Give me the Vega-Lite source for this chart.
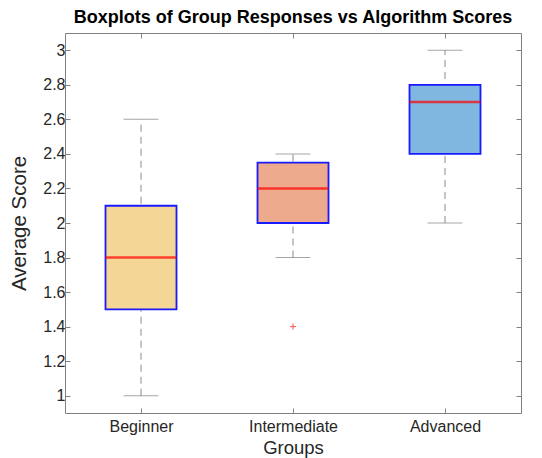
{
  "$schema": "https://vega.github.io/schema/vega-lite/v6.json",
  "width": 456,
  "height": 380,
  "autosize": "none",
  "padding": {"left": 65, "top": 33, "right": 21, "bottom": 45},
  "title": {"text": "Boxplots of Group Responses vs Algorithm Scores", "font": "Liberation Sans", "fontSize": 18, "fontWeight": "bold", "color": "#000000", "anchor": "middle", "offset": 6},
  "config": {
    "view": {"stroke": null},
    "axis": {"labelFont": "Liberation Sans", "titleFont": "Liberation Sans", "labelColor": "#262626", "titleColor": "#262626", "domainColor": "#808080", "tickColor": "#808080", "grid": false, "titleFontWeight": "normal"}
  },
  "datasets": {
    "boxes": [
      {"group": "Beginner", "low": 1.0, "q1": 1.5, "median": 1.8, "q3": 2.1, "high": 2.6, "fill": "Beginner"},
      {"group": "Intermediate", "low": 1.8, "q1": 2.0, "median": 2.2, "q3": 2.35, "high": 2.4, "fill": "Intermediate"},
      {"group": "Advanced", "low": 2.0, "q1": 2.4, "median": 2.7, "q3": 2.8, "high": 3.0, "fill": "Advanced"}
    ],
    "outliers": [
      {"group": "Intermediate", "value": 1.4}
    ]
  },
  "resolve": {"axis": {"x": "independent", "y": "independent"}},
  "layer": [
    {
      "data": {"name": "boxes"},
      "mark": {"type": "rule", "color": "#8a8a8a", "strokeWidth": 1, "strokeDash": [7, 5]},
      "encoding": {
        "x": {"field": "group", "type": "nominal", "sort": ["Beginner", "Intermediate", "Advanced"], "scale": {"type": "point", "padding": 0.5, "domain": ["Beginner", "Intermediate", "Advanced"]}, "axis": {"orient": "bottom", "title": "Groups", "labelAngle": 0, "labelFontSize": 16, "titleFontSize": 18.5, "tickSize": -5, "labelPadding": 10, "titlePadding": 4, "domainWidth": 1}},
        "y": {"field": "low", "type": "quantitative", "scale": {"domain": [0.9, 3.1], "nice": false, "zero": false}, "axis": {"orient": "left", "title": "Average Score", "values": [1, 1.2, 1.4, 1.6, 1.8, 2, 2.2, 2.4, 2.6, 2.8, 3], "format": "~g", "labelFontSize": 16, "titleFontSize": 20.5, "tickSize": -5, "labelPadding": 5, "titlePadding": 13}},
        "y2": {"field": "high"}
      }
    },
    {
      "data": {"name": "boxes"},
      "mark": {"type": "tick", "color": "#808080", "size": 35, "thickness": 1, "orient": "horizontal"},
      "encoding": {
        "x": {"field": "group", "type": "nominal", "axis": {"orient": "top", "labels": false, "title": null, "tickSize": -5, "domainWidth": 1}},
        "y": {"field": "low", "type": "quantitative", "axis": {"orient": "right", "labels": false, "title": null, "values": [1, 1.2, 1.4, 1.6, 1.8, 2, 2.2, 2.4, 2.6, 2.8, 3], "tickSize": -5}}
      }
    },
    {
      "data": {"name": "boxes"},
      "mark": {"type": "tick", "color": "#808080", "size": 35, "thickness": 1, "orient": "horizontal"},
      "encoding": {
        "x": {"field": "group", "type": "nominal", "axis": null},
        "y": {"field": "high", "type": "quantitative", "axis": null}
      }
    },
    {
      "data": {"name": "boxes"},
      "mark": {"type": "bar", "size": 71, "stroke": "#1a1aff", "strokeWidth": 1.8},
      "encoding": {
        "x": {"field": "group", "type": "nominal", "axis": null},
        "y": {"field": "q1", "type": "quantitative", "axis": null},
        "y2": {"field": "q3"},
        "fill": {"field": "fill", "type": "nominal", "legend": null, "scale": {"domain": ["Beginner", "Intermediate", "Advanced"], "range": ["#F4D794", "#EDAA8C", "#80B7E0"]}}
      }
    },
    {
      "data": {"name": "boxes"},
      "mark": {"type": "tick", "color": "#ff0000", "size": 71, "thickness": 2.5, "orient": "horizontal"},
      "encoding": {
        "x": {"field": "group", "type": "nominal", "axis": null},
        "y": {"field": "median", "type": "quantitative", "axis": null}
      }
    },
    {
      "data": {"name": "outliers"},
      "mark": {"type": "point", "shape": "M-1,0L1,0M0,-1L0,1", "filled": false, "stroke": "#ff0000", "strokeWidth": 1, "size": 36},
      "encoding": {
        "x": {"field": "group", "type": "nominal", "axis": null},
        "y": {"field": "value", "type": "quantitative", "axis": null}
      }
    }
  ]
}
